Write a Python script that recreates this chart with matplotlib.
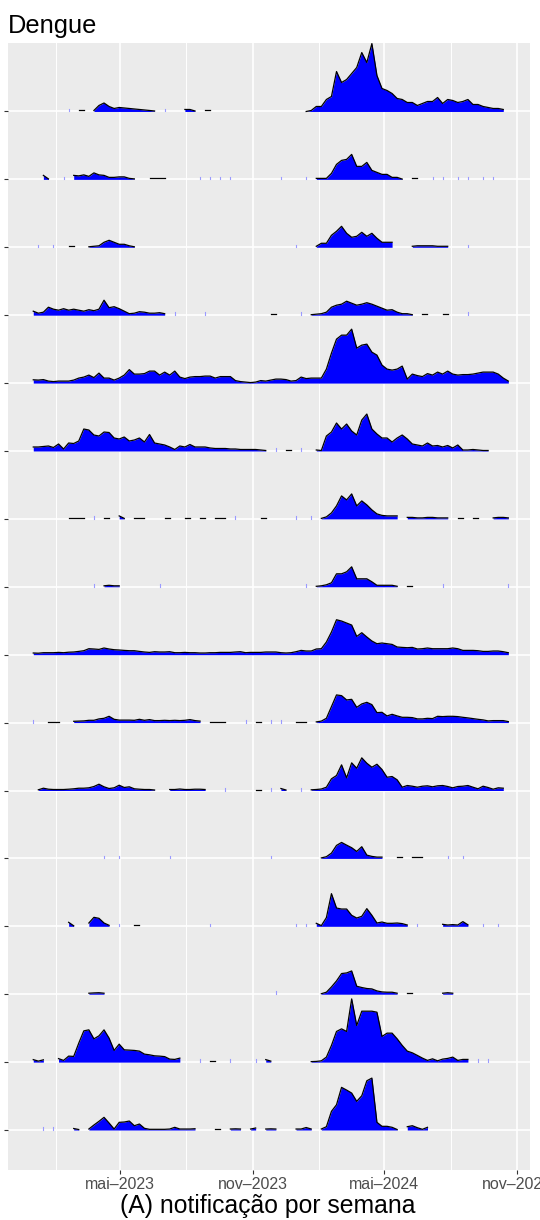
import numpy as np
import matplotlib
matplotlib.use('Agg')
import matplotlib.pyplot as plt
import matplotlib.dates as mdates

plt.rcParams['font.family'] = ['Liberation Sans', 'DejaVu Sans']

# semanas epidemiologicas (inicio 2023-01-01)
start_date = np.datetime64('2023-01-01')
n_weeks = 98

# cada linha: lista de (semana_inicial, [casos...]) ; trechos separados por semanas sem dado
row01 = [(7, [0.5]), (9, [1, 1]), (12, [1, 6, 8.5, 5, 3, 4, 3.5, 3, 2.5, 2, 1.5, 1, 0.5]), (26, [0.5]),
         (30, [2, 2, 0.5]), (34, [1, 1]),
         (54, [0, 1, 5, 5, 12, 15, 40, 29, 32, 38, 44, 59, 49, 68, 36, 23, 21, 18, 13, 12, 9, 9, 6, 8, 10,
               10, 14, 8, 12, 11, 9, 10, 12, 7, 7, 5, 4, 3, 3, 2])]
row02 = [(2, [4, 0.5]), (6, [0.5]), (8, [4, 3.5, 4.5, 3, 6.5, 4.5, 4, 2, 2, 2.5, 2.5, 1, 0.5]), (23, [1, 1, 1, 1]),
         (33, [0.5]), (35, [0.5]), (37, [0.5]), (39, [0.5]), (49, [0.5]), (54, [0.5]),
         (56, [1, 1, 1, 6, 15, 19, 20, 25, 13, 13, 17, 9, 7, 5, 5, 2, 2, 0.3]), (75, [1, 1]),
         (79, [0.5]), (81, [0.5]), (84, [0.5]), (86, [0.5]), (89, [0.5]), (91, [0.5])]
row03 = [(1, [0.5]), (4, [0.5]), (7, [1, 1]), (11, [0.5, 1, 1.5, 5, 7, 5, 3, 3, 1.5, 0.5]), (52, [0.5]),
         (56, [1, 4, 4, 12, 16, 21, 14, 10, 11, 15, 11, 14, 9, 5, 5, 5]),
         (75, [1, 1.5, 1.5, 1.5, 1.5, 1, 1, 1]), (86, [0.5])]
row04 = [(0, [4, 2, 3, 8, 6, 5, 6.5, 5, 6, 5, 4, 5.5, 4.5, 6, 15, 7.5, 8.5, 6.5, 4, 1.5, 2, 3.5, 3, 2, 2, 2.5,
              1.5]),
         (28, [0.5]), (34, [0.5]), (47, [1, 1]), (53, [0.5]),
         (55, [0.5, 1, 1.5, 3, 8, 10, 11, 14, 12, 10, 11, 12.5, 11, 9, 7, 5, 5.5, 3, 1.5, 1.5, 0.5]),
         (77, [1, 1]), (81, [1, 1]), (86, [0.5])]
row05 = [(0, [3.3, 3, 3.5, 2, 1.5, 2, 2, 2, 3, 5, 6, 8, 5.5, 10, 5, 5, 3, 5, 8, 13.5, 9, 9, 9.5, 12, 12, 8, 11, 8,
              12, 6, 4.5, 6, 6.5, 6.5, 7, 7, 5, 6.5, 6.5, 6.5, 2.5, 1.5, 1, 0.5, 1, 2.5, 2,
              3, 4, 4, 3.5, 2, 2.5, 6, 4.5, 5, 5, 5, 14, 30, 44, 48, 48, 54, 35, 38, 39, 31, 28, 18, 14, 13,
              14, 17, 4, 9, 7.5, 6.5, 9.5, 8, 11, 9, 12, 9, 8, 8.5, 8.5, 9, 10, 11, 11, 11, 9, 5, 2])]
row06 = [(0, [4, 4, 4.5, 5, 3.5, 7, 2, 8, 7.5, 10, 22, 21, 16, 15, 19, 18.5, 13, 12, 14, 10, 11, 13, 9, 16.5, 8,
              7, 6, 4, 1.5, 5, 4, 6.5, 4, 4, 4, 3, 2.5, 2.5, 2.5, 2, 2, 1.5, 1.5, 1.5, 1.5, 1, 0.5]),
         (48, [0.5]), (50, [1, 1]), (53, [0.5]),
         (56, [1, 0.5, 15, 19, 28, 22, 27, 20, 16, 31, 37, 22, 17, 13, 13, 9, 13, 16, 12, 7, 6, 5, 8, 5, 5.5,
               4, 5.5, 3, 6, 1, 1, 1.5, 1, 0.5, 0.5])]
row07 = [(7, [1, 1, 1, 1]), (12, [0.5]), (14, [1, 1]), (17, [3, 0.5]), (20, [1, 1, 1]), (26, [1, 1]),
         (30, [1, 1]), (33, [1, 1]), (36, [1, 1, 1]), (40, [0.5]), (45, [1, 1]), (52, [0.5]), (55, [0.5]),
         (57, [0.5, 2, 6, 13, 23, 19, 25, 13, 18, 14, 9, 5, 3.5, 3, 3, 3]),
         (74, [1.5, 1.5, 1, 1, 1.5, 1.5, 1, 1, 1]), (84, [1, 1]), (87, [1, 1]), (91, [1, 1.5, 1.5, 1])]
row08 = [(12, [0.5]), (14, [1, 1.5, 1, 1]), (25, [0.5]), (54, [0.5]),
         (56, [0.5, 1, 2, 4, 13, 13, 15, 20, 8, 8, 8, 5, 1.5, 1.5, 1.5, 1.5, 0.5]),
         (74, [1, 1]), (81, [0.5]), (94, [0.5])]
row09 = [(0, [1.7, 1.5, 2, 2, 2, 2.3, 2, 2.5, 2.7, 3.3, 4, 6, 5.7, 5.3, 6.7, 5.7, 5, 4.7, 4.3, 4,
              4, 3.3, 2.7, 2.3, 3, 2.7, 2.7, 3, 2, 2, 2.3, 2, 2, 1.7, 1.7, 2, 2, 2.3, 2.3, 2.3,
              2.7, 3, 2, 2.3, 2.3, 2.3, 2.7, 2.7, 2.7, 2, 1.7, 2, 3, 4.3, 3.7, 3.7, 5.7, 6, 12.7, 22.7,
              35, 33.7, 31.7, 29.7, 18.3, 22, 17.7, 13.7, 11, 11.7, 11, 10.3, 7.7, 7.3, 7, 7.3, 5.7, 6, 6.7, 6,
              6, 6, 6, 6.7, 6, 4.3, 4.3, 4.3, 4, 3.3, 3.3, 3.7, 3.7, 3, 2])]
row10 = [(0, [0.5]), (3, [1, 1, 1]),
         (8, [1.3, 1.5, 1.7, 2.3, 2.3, 3.7, 4.3, 6.3, 3.3, 2.5, 2.5, 2.5, 2.3, 3.3, 2.3, 3, 2, 2, 2.3, 2,
              2.3, 2, 2.3, 3, 2, 1.5]),
         (35, [1, 1, 1, 1]), (42, [0.5]), (44, [1, 1]), (47, [0.5]), (49, [0.5]), (52, [1, 1, 1]),
         (56, [0.7, 1.5, 4.3, 16, 27.7, 27, 22.7, 23.3, 15.3, 18.7, 20.3, 18, 10, 10.3, 6.7, 8.3, 6.7, 5.3,
               5.3, 5, 3.7, 3.7, 4.3, 4, 6.3, 6, 6.3, 6.3, 6, 5.3, 4.7, 4, 3.3, 2.7, 1.7, 2, 2, 2, 1])]
row11 = [(1, [0.7, 2.3, 1.3, 1, 1, 1, 1.3, 1.7, 2.3, 2.3, 2.7, 4, 6.3, 3.7, 2, 2.7, 5.3, 3, 3.7, 1.7,
              1.3, 1, 1, 0.5]),
         (27, [1, 1, 1.5, 1, 1, 1.3, 1.3, 1]), (38, [0.5]), (44, [1, 1]), (47, [0.5]), (49, [2, 0.5]),
         (53, [0.5]),
         (55, [0.7, 1, 1.5, 3.3, 11.7, 15, 25.7, 12.7, 27.7, 22.3, 32.7, 27.3, 23.3, 26.3, 21, 13.3, 14,
               10.7, 3.3, 5, 4.3, 3.3, 4.3, 4.7, 3.7, 4.7, 5, 4, 2.7, 4, 4.3, 5, 3.3, 1.7, 4.3, 3, 1.3, 2.7,
               2.3])]
row12 = [(14, [0.5]), (17, [0.5]), (27, [0.5]), (47, [0.5]),
         (57, [0.5, 1.7, 5.3, 13, 16, 13.3, 10.7, 7, 11.7, 3.3, 2, 1.3, 1.3]),
         (72, [1, 1]), (75, [1, 1, 1]), (82, [0.5]), (85, [0.5])]
row13 = [(7, [4, 0.5]), (11, [3.3, 9, 8, 3.3, 1]), (17, [0.5]), (20, [1, 1]), (35, [0.5]), (52, [0.5]),
         (54, [0.5]),
         (56, [3, 0.7, 8.7, 32.7, 18.3, 17.3, 17.3, 11, 8.3, 10, 17.7, 11, 3.3, 4.3, 3, 3, 3.3, 2.7, 1.3]),
         (76, [0.5]), (81, [2, 1.3, 1.7, 1.3, 4.7, 1.5]), (89, [0.5]), (92, [0.5])]
row14 = [(11, [1, 1.3, 1.5, 1]), (48, [0.5]),
         (57, [0.5, 2, 7.3, 13.3, 20.7, 21.3, 23.3, 8, 6.7, 5.7, 5.3, 3.3, 2.3, 2, 2, 1]),
         (74, [1, 1]), (81, [1, 1.5, 1])]
row15 = [(0, [2.5, 1, 2.3]),
         (5, [3.5, 1.7, 6, 5.7, 19, 31.3, 32.3, 23.3, 26.3, 32.3, 24, 11.7, 18, 12.3, 12, 11.7, 11, 8, 7.3,
              6.3, 6, 5.5, 3, 2.7, 4]),
         (33, [0.5]), (35, [1, 1]), (39, [0.5]), (44, [0.5]), (46, [2.5, 1]),
         (55, [0.5, 0.7, 1.3, 5, 16.7, 30.7, 33.3, 30.7, 63.3, 36.7, 51, 51, 51, 50, 25.7, 29, 29, 23.3,
               16.7, 11, 9.3, 6.7, 4, 1.7, 3.3, 1.3, 3, 3.7, 5, 1.7, 2.7, 2.7]),
         (88, [0.5]), (90, [0.5])]
row16 = [(2, [0.5]), (4, [0.5]), (8, [1.5, 0.5]),
         (11, [1, 5, 8.7, 12.7, 7, 1, 7.7, 8, 9, 4.3, 6, 1.7, 0.7, 0.7, 0.7, 0.7, 1, 2.7, 1, 1, 1, 1.3]),
         (36, [1.5, 1.5]), (39, [1, 1.2, 1]), (43, [1, 2]), (46, [1, 1.2, 1]), (52, [1, 1, 2.5, 1]),
         (57, [1, 3.3, 18.7, 25.3, 42.7, 40, 37, 28.7, 34.3, 49.3, 52, 7.7, 3.7, 3.7, 2.7, 0.5]),
         (74, [3.3, 4.3, 2.3, 0.7, 2.7])]

rows = [row01, row02, row03, row04, row05, row06, row07, row08,
        row09, row10, row11, row12, row13, row14, row15, row16]

tick_dates = ['2023-05-01', '2023-11-01', '2024-05-01', '2024-11-01']
tick_labels = ['mai\u20132023', 'nov\u20132023', 'mai\u20132024', 'nov\u20132024']
minor_dates = ['2023-02-01', '2023-08-01', '2024-02-01', '2024-08-01']

weeks = start_date + np.arange(n_weeks) * np.timedelta64(7, 'D')
xw = mdates.date2num(weeks)
scale = 68.0  # casos -> altura de uma faixa

fig = plt.figure(figsize=(5.4, 12.2), dpi=100)
ax = fig.add_axes([8 / 540, 1 - 1170 / 1220, 522 / 540, 1127 / 1220])
ax.set_facecolor('#EBEBEB')
for s in ax.spines.values():
    s.set_visible(False)

n = len(rows)
for i, segs in enumerate(rows):
    base = n - 1 - i
    z = 2 + i * 0.1
    for k0, vals in segs:
        x = xw[k0:k0 + len(vals)]
        y = base + np.array(vals) / scale
        if len(vals) == 1:
            ax.plot([x[0], x[0]], [base, base + 0.04], color='#9a9aff', lw=0.8, zorder=z)
            continue
        ax.fill_between(x, base, y, color='#0000FF', lw=0, zorder=z)
        ax.plot(x, y, color='black', lw=0.9, zorder=z + 0.05, solid_joinstyle='round')

ax.set_xlim(mdates.date2num(start_date - np.timedelta64(35, 'D')),
            mdates.date2num(start_date + np.timedelta64(688, 'D')))
ax.set_ylim(-40 / 67.93, 15 + 68.5 / 67.93)

ax.set_xticks(mdates.date2num(np.array(tick_dates, dtype='datetime64[D]')))
ax.set_xticklabels(tick_labels)
ax.set_xticks(mdates.date2num(np.array(minor_dates, dtype='datetime64[D]')), minor=True)
ax.set_yticks(np.arange(n))
ax.set_yticklabels([''] * n)

ax.set_axisbelow(True)
ax.grid(which='major', color='white', lw=1.2)
ax.grid(which='minor', axis='x', color='white', lw=0.7)
ax.tick_params(which='major', length=3, width=0.8, color='#333333',
               labelsize=11.5, labelcolor='#4D4D4D', pad=2)
ax.tick_params(which='minor', length=0)

fig.text(8 / 540, 1 - 33 / 1220, 'Dengue', fontsize=18.3, ha='left', va='baseline')
fig.text(268 / 540, 1 - 1213 / 1220, '(A) notificação por semana', fontsize=17.8,
         ha='center', va='baseline')

fig.savefig('out.png', dpi=100)
